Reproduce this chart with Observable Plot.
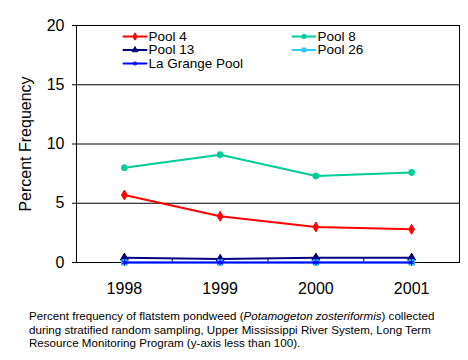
<!DOCTYPE html>
<html><head><meta charset="utf-8">
<script src="https://cdn.jsdelivr.net/npm/d3@7"></script>
<script src="https://cdn.jsdelivr.net/npm/@observablehq/plot@0.6"></script>
<style>
body{margin:0;background:#fff;font-family:Arial,"Liberation Sans",sans-serif;}
#chart svg{display:block;}
#cap{font-size:11.6px;line-height:13.5px;padding-left:29px;margin-top:9px;color:#000;white-space:nowrap;}
</style></head><body>
<div id="chart"></div>
<div id="cap">Percent frequency of flatstem pondweed (<i>Potamogeton zosteriformis</i>) collected<br>during stratified random sampling, Upper Mississippi River System, Long Term<br>Resource Monitoring Program (y-axis less than 100).</div>
<script>
const years = [1998, 1999, 2000, 2001];
const seriesNames = ["Pool 4", "Pool 8", "Pool 13", "Pool 26", "La Grange Pool"];
const pool4 = [5.7, 3.9, 3.0, 2.8];
const pool8 = [8.0, 9.1, 7.3, 7.6];
const pool13 = [0.4, 0.3, 0.4, 0.4];
const pool26 = [0, 0, 0, 0];
const laGrange = [0, 0, 0, 0];
const seriesColors = ["#FF0000", "#00CC99", "#000080", "#33CCFF", "#0000FF"];
const seriesSymbols = ["diamond", "circle", "triangle", "square", "asterisk"];
const yTicks = [0, 5, 10, 15, 20];
const yLabel = "Percent Frequency";

const seriesValues = [pool4, pool8, pool13, pool26, laGrange];
const rows = seriesNames.flatMap((name, i) => years.map((year, j) => ({name, year, value: seriesValues[i][j]})));
const boundaries = d3.pairs(years).map(([a, b]) => (a + b) / 2);
const legend = seriesNames.map((name, i) => ({name, col: i % 2, row: Math.floor(i / 2)}));
const lx = d => 47 + d.col * 169;
const ly = d => 11 + d.row * 13.5;
const lineShape = {draw(ctx, l) { ctx.moveTo(0, 0); ctx.lineTo(0, -l); }};
const font = "Arial, 'Liberation Sans', sans-serif";

const seriesMarks = seriesNames.flatMap(name => [
  Plot.line(rows, {filter: d => d.name === name, x: "year", y: "value", stroke: "name", strokeWidth: 2}),
  Plot.dot(rows, {filter: d => d.name === name, x: "year", y: "value", symbol: "name", fill: "name", stroke: "name", strokeWidth: 1, r: 3})
]);

const legendMarks = legend.flatMap(d => [
  Plot.vector([d], {frameAnchor: "top-left", dx: lx(d), dy: ly(d), rotate: 90, length: 23, anchor: "start", shape: lineShape, stroke: "name", strokeWidth: 2}),
  Plot.dot([d], {frameAnchor: "top-left", dx: lx(d) + 11.5, dy: ly(d), symbol: "name", fill: "name", stroke: "name", strokeWidth: 1, r: 2.2}),
  Plot.text([d], {frameAnchor: "top-left", dx: lx(d) + 25, dy: ly(d), text: "name", textAnchor: "start", lineAnchor: "middle", fontSize: 13.5, fill: "#000"})
]);

const chart = Plot.plot({
  width: 468,
  height: 300,
  marginLeft: 76,
  marginRight: 9,
  marginTop: 25,
  marginBottom: 38,
  style: {fontFamily: font, color: "#000", background: "#fff"},
  x: {type: "linear", domain: [d3.min(years) - 0.5, d3.max(years) + 0.5]},
  y: {domain: [yTicks[0], yTicks[yTicks.length - 1]]},
  color: {domain: seriesNames, range: seriesColors},
  symbol: {domain: seriesNames, range: seriesSymbols},
  marks: [
    Plot.gridY(yTicks.slice(1, -1), {stroke: "#000", strokeOpacity: 1, strokeWidth: 1}),
    Plot.frame({stroke: "#000", strokeWidth: 1}),
    Plot.axisY(yTicks, {tickSize: 4, tickPadding: 8, fontSize: 16, label: yLabel, labelAnchor: "center", labelOffset: 57, labelArrow: false}),
    Plot.axisX(years, {tickSize: 0, tickPadding: 20, fontSize: 16, tickFormat: d => String(d), label: null}),
    Plot.vector(boundaries, {x: d => d, frameAnchor: "bottom", length: 4, anchor: "start", shape: lineShape, stroke: "#000", strokeWidth: 1}),
    ...seriesMarks,
    ...legendMarks
  ]
});
document.getElementById("chart").append(chart);
</script>
</body></html>
